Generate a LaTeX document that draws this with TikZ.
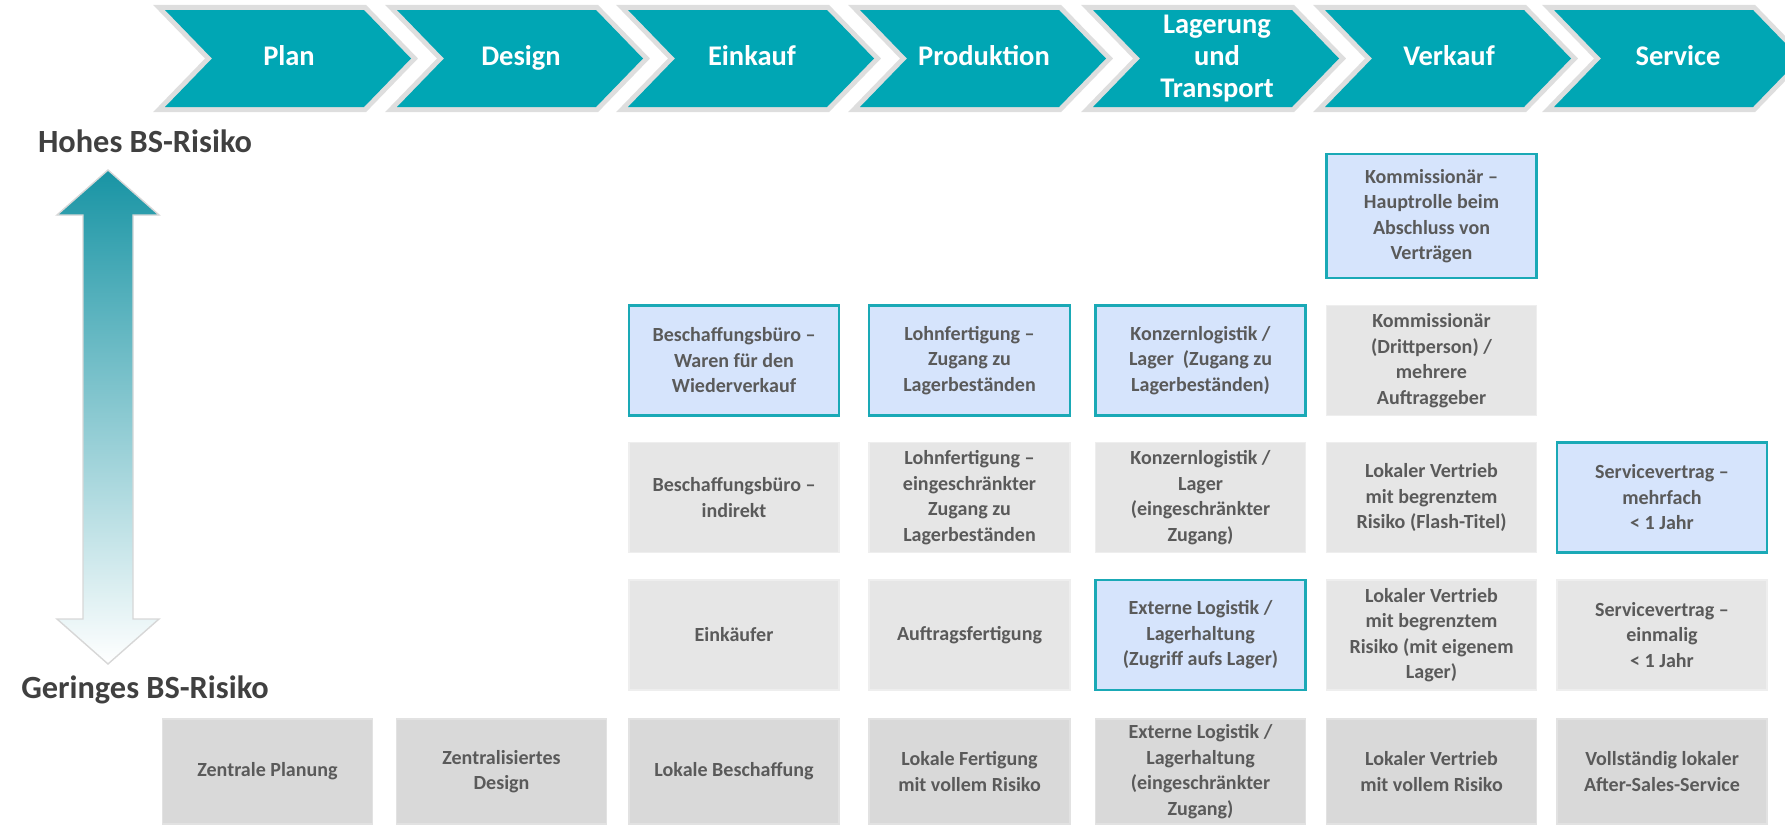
\documentclass[tikz,border=0pt]{standalone}
\usepackage{fontspec}
\setmainfont{Carlito}
\definecolor{chevteal}{RGB}{0,166,180}
\definecolor{chevgrey}{RGB}{222,222,222}
\definecolor{boxblue}{RGB}{214,228,252}
\definecolor{boxedge}{RGB}{26,169,182}
\definecolor{boxgrey}{RGB}{230,230,230}
\definecolor{boxgreyedge}{RGB}{238,238,238}
\definecolor{basegrey}{RGB}{217,217,217}
\definecolor{baseedge}{RGB}{226,226,226}
\definecolor{boxtext}{RGB}{90,90,90}
\definecolor{risktext}{RGB}{64,64,64}
\definecolor{arrowtop}{RGB}{24,148,164}
\definecolor{arrowedge}{RGB}{215,215,215}

\begin{document}
\begin{tikzpicture}[x=0.01cm, y=-0.01cm,
  chevron/.style={fill=chevteal, preaction={draw=chevgrey, line width=2.85pt, line join=miter}},
  chevlabel/.style={text=white, align=center, inner sep=0pt, font=\bfseries\fontsize{8.1}{9.1}\selectfont, text height=5.6pt, text depth=1.8pt},
  cell/.style={minimum width=2.1cm, minimum height=1.1cm, inner sep=0pt, align=center, text=boxtext, font=\bfseries\fontsize{5.7}{7.25}\selectfont},
  bluecell/.style={cell, fill=boxblue, draw=boxedge, line width=0.7pt},
  greycell/.style={cell, fill=boxgrey, draw=boxgreyedge, line width=0.5pt},
  basecell/.style={cell, fill=basegrey, draw=baseedge, line width=0.5pt, minimum height=1.05cm},
  risklabel/.style={text=risktext, inner sep=0pt, font=\bfseries\fontsize{9.2}{11}\selectfont}]

                        \useasboundingbox (0,0) rectangle (1785,824);
                        \clip (0,0) rectangle (1785,824);

                        \path[chevron] (165,10) -- (364,10) -- (411,58.5) -- (364,107) -- (165,107) -- (212,58.5) -- cycle;
                        \path[chevron] (397,10) -- (596,10) -- (643,58.5) -- (596,107) -- (397,107) -- (444,58.5) -- cycle;
                        \path[chevron] (628,10) -- (827,10) -- (874,58.5) -- (827,107) -- (628,107) -- (675,58.5) -- cycle;
                        \path[chevron] (860,10) -- (1059,10) -- (1106,58.5) -- (1059,107) -- (860,107) -- (907,58.5) -- cycle;
                        \path[chevron] (1093,10) -- (1292,10) -- (1339,58.5) -- (1292,107) -- (1093,107) -- (1140,58.5) -- cycle;
                        \path[chevron] (1325,10) -- (1524,10) -- (1571,58.5) -- (1524,107) -- (1325,107) -- (1372,58.5) -- cycle;
                        \path[chevron] (1554,10) -- (1753,10) -- (1800,58.5) -- (1753,107) -- (1554,107) -- (1601,58.5) -- cycle;

                        \node[chevlabel] (plan) at (289,58.5) {Plan};
                        \node[chevlabel] (design) at (521,58.5) {Design};
                        \node[chevlabel] (einkauf) at (752,58.5) {Einkauf};
                        \node[chevlabel] (produktion) at (984,58.5) {Produktion};
                        \node[chevlabel, text height=, text depth=] (lagerung) at (1217,58.5) {Lagerung\\und\\Transport};
                        \node[chevlabel] (verkauf) at (1449,58.5) {Verkauf};
                        \node[chevlabel] (service) at (1678,58.5) {Service};

                        \shade[top color=arrowtop, bottom color=white, draw=arrowedge, line width=0.4pt]
                          (108,170) -- (159,215) -- (133,215) -- (133,619) -- (159,619) -- (108,664)
                          -- (57,619) -- (83,619) -- (83,215) -- (57,215) -- cycle;
                        \node[risklabel] (hohes) at (145,141) {Hohes BS-Risiko};
                        \node[risklabel] (geringes) at (145,690) {Geringes BS-Risiko};

                        \node[bluecell, minimum height=1.24cm] (kommhaupt) at (1431.5,216) {Kommissionär –\\Hauptrolle beim\\Abschluss von\\Verträgen};

                        \node[bluecell] (beschwaren) at (734,360.5) {Beschaffungsbüro –\\Waren für den\\Wiederverkauf};
                        \node[bluecell, minimum width=2.01cm] (lohnzugang) at (969.5,360.5) {Lohnfertigung –\\Zugang zu\\Lagerbeständen};
                        \node[bluecell] (konzernlager) at (1200.5,360.5) {Konzernlogistik /\\Lager~ (Zugang zu\\Lagerbeständen)};
                        \node[greycell] (kommdritt) at (1431.5,360.5) {Kommissionär\\(Drittperson) /\\mehrere\\Auftraggeber};

                        \node[greycell] (beschindirekt) at (734,497.5) {Beschaffungsbüro –\\indirekt};
                        \node[greycell, minimum width=2.01cm] (lohneinge) at (969.5,497.5) {Lohnfertigung –\\eingeschränkter\\Zugang zu\\Lagerbeständen};
                        \node[greycell] (konzerneinge) at (1200.5,497.5) {Konzernlogistik /\\Lager\\(eingeschränkter\\Zugang)};
                        \node[greycell] (vertriebflash) at (1431.5,497.5) {Lokaler Vertrieb\\mit begrenztem\\Risiko (Flash-Titel)};
                        \node[bluecell] (servicemehr) at (1662,497.5) {Servicevertrag –\\mehrfach\\< 1 Jahr};

                        \node[greycell] (einkaeufer) at (734,635) {Einkäufer};
                        \node[greycell, minimum width=2.01cm] (auftrag) at (969.5,635) {Auftragsfertigung};
                        \node[bluecell] (externzugriff) at (1200.5,635) {Externe Logistik /\\Lagerhaltung\\(Zugriff aufs Lager)};
                        \node[greycell] (vertriebeigen) at (1431.5,635) {Lokaler Vertrieb\\mit begrenztem\\Risiko (mit eigenem\\Lager)};
                        \node[greycell] (serviceeinmal) at (1662,635) {Servicevertrag –\\einmalig\\< 1 Jahr};

                        \node[basecell] (zentralplan) at (267.5,771.5) {Zentrale Planung};
                        \node[basecell] (zentraldesign) at (501.5,771.5) {Zentralisiertes\\Design};
                        \node[basecell] (lokalbesch) at (734,771.5) {Lokale Beschaffung};
                        \node[basecell, minimum width=2.01cm] (lokalfert) at (969.5,771.5) {Lokale Fertigung\\mit vollem Risiko};
                        \node[basecell] (externeinge) at (1200.5,771.5) {Externe Logistik /\\Lagerhaltung\\(eingeschränkter\\Zugang)};
                        \node[basecell] (vertriebvoll) at (1431.5,771.5) {Lokaler Vertrieb\\mit vollem Risiko};
                        \node[basecell] (aftersales) at (1662,771.5) {Vollständig lokaler\\After-Sales-Service};
                    \end{tikzpicture}
\end{document}
